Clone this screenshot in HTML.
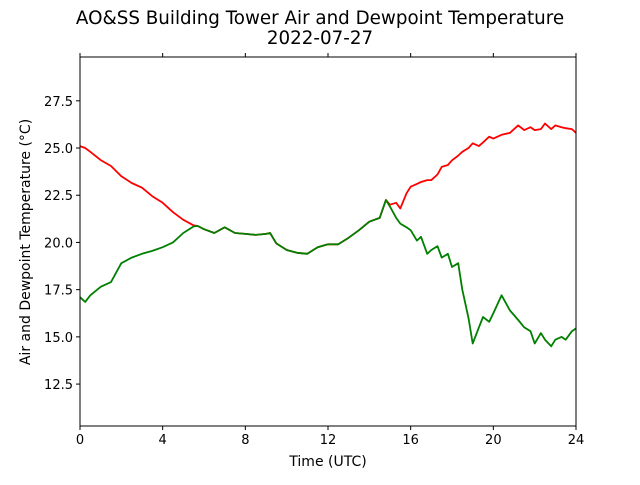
<!DOCTYPE html>
<html><head><meta charset="utf-8"><style>
body{margin:0;background:#fff}
svg text{font-family:"DejaVu Sans","Liberation Sans",sans-serif;fill:#000}
</style></head><body>
<svg id="chart" width="640" height="480" viewBox="0 0 640 480" xmlns="http://www.w3.org/2000/svg">
<rect width="640" height="480" fill="#fff"/>
<text x="320" y="24" font-size="18.3" text-anchor="middle">AO&amp;SS Building Tower Air and Dewpoint Temperature</text>
<text x="320" y="44" font-size="18.3" text-anchor="middle">2022-07-27</text>
<g id="series"></g>
<g id="axes"></g>
<text x="328" y="466" font-size="14" text-anchor="middle">Time (UTC)</text>
<text transform="translate(30,242) rotate(-90)" font-size="14" text-anchor="middle">Air and Dewpoint Temperature (°C)</text>
</svg>
<script>
const hours=[0,0.25,0.5,1,1.5,2,2.5,3,3.5,4,4.5,5,5.5,5.7,6,6.5,7,7.5,8,8.5,9,9.2,9.5,10,10.5,11,11.5,12,12.5,13,13.5,14,14.5,14.8,15,15.3,15.5,15.8,16,16.3,16.5,16.8,17,17.3,17.5,17.8,18,18.3,18.5,18.8,19,19.3,19.5,19.8,20,20.4,20.8,21.2,21.5,21.8,22,22.3,22.5,22.8,23,23.3,23.5,23.8,24];
const airTemp=[25.1,25.0,24.8,24.36,24.05,23.5,23.15,22.9,22.45,22.1,21.6,21.2,20.9,20.87,20.7,20.5,20.8,20.5,20.45,20.4,20.45,20.5,19.95,19.6,19.45,19.4,19.75,19.9,19.9,20.25,20.65,21.1,21.3,22.25,22.0,22.1,21.8,22.6,22.95,23.1,23.2,23.3,23.3,23.6,24.0,24.1,24.35,24.6,24.8,25.0,25.25,25.1,25.3,25.6,25.5,25.7,25.8,26.2,25.95,26.1,25.95,26.0,26.3,26.0,26.2,26.1,26.05,26.0,25.8];
const dewTemp=[17.1,16.85,17.2,17.65,17.9,18.9,19.2,19.4,19.55,19.75,20.0,20.5,20.85,20.87,20.7,20.5,20.8,20.5,20.45,20.4,20.45,20.5,19.95,19.6,19.45,19.4,19.75,19.9,19.9,20.25,20.65,21.1,21.3,22.25,21.9,21.3,21.0,20.8,20.65,20.1,20.3,19.4,19.6,19.8,19.2,19.4,18.7,18.9,17.5,16.0,14.65,15.5,16.05,15.8,16.25,17.2,16.4,15.9,15.5,15.3,14.65,15.2,14.85,14.5,14.85,15.0,14.85,15.3,15.45];
const xTicks=[0,4,8,12,16,20,24];
const yTicks=[12.5,15.0,17.5,20.0,22.5,25.0,27.5];
const X0=80,X1=576,Y0=57,Y1=426,XMIN=0,XMAX=24,YMIN=10.28,YMAX=29.82;
const xs=h=>X0+(h-XMIN)/(XMAX-XMIN)*(X1-X0);
const ys=v=>Y1-(v-YMIN)/(YMAX-YMIN)*(Y1-Y0);
const NS="http://www.w3.org/2000/svg";
const ser=document.getElementById('series'),ax=document.getElementById('axes');
function mk(t,a){const e=document.createElementNS(NS,t);for(const k in a)e.setAttribute(k,a[k]);return e;}
function line(vals,color,name){
  const p=mk('path',{d:vals.map((v,i)=>(i?'L':'M')+xs(hours[i]).toFixed(1)+','+ys(v).toFixed(1)).join(''),fill:'none',stroke:color,'stroke-width':1.8,'stroke-linejoin':'round'});
  
  
  ser.appendChild(p);
}
line(airTemp,'#ff0000','air-temperature-line');
line(dewTemp,'#008000','dewpoint-temperature-line');
const frame=mk('rect',{x:X0,y:Y0,width:X1-X0,height:Y1-Y0,fill:'none',stroke:'#000','stroke-width':1});


ax.appendChild(frame);
xTicks.forEach(t=>{
  const x=xs(t);
  ax.appendChild(mk('line',{x1:x,x2:x,y1:Y1,y2:Y1+4,stroke:'#000'}));
  ax.appendChild(mk('line',{x1:x,x2:x,y1:Y0,y2:Y0-4,stroke:'#000'}));
  const tx=mk('text',{x:x,y:Y1+18,'font-size':13,'text-anchor':'middle'});
  
  
  tx.textContent=t;ax.appendChild(tx);
});
yTicks.forEach(t=>{
  const y=ys(t);
  ax.appendChild(mk('line',{x1:X0-4,x2:X0,y1:y,y2:y,stroke:'#000'}));
  const tx=mk('text',{x:X0-7,y:y+5,'font-size':13,'text-anchor':'end'});
  
  
  tx.textContent=t.toFixed(1);ax.appendChild(tx);
});
</script>
</body></html>
